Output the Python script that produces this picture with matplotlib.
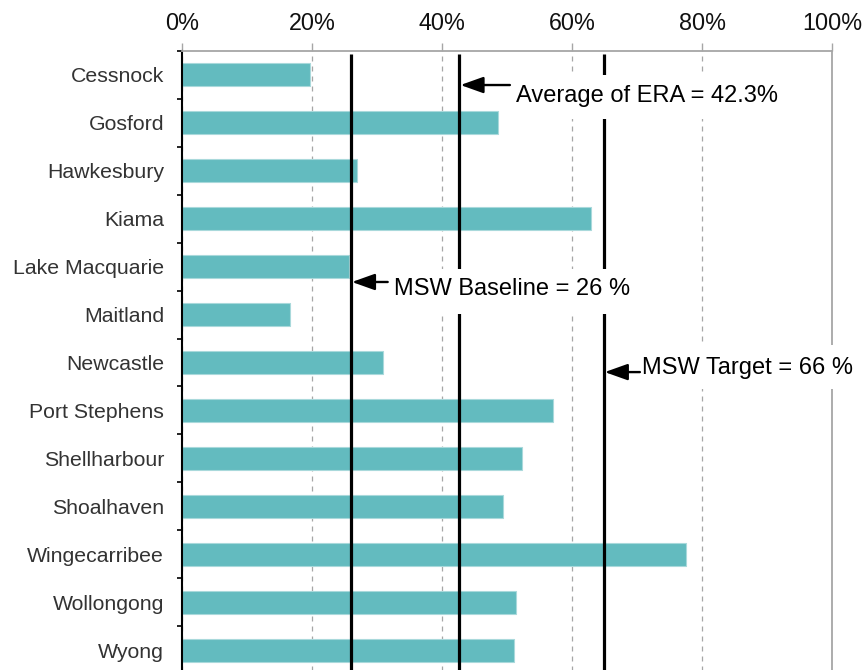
import matplotlib
matplotlib.use("Agg")
import matplotlib.pyplot as plt
from matplotlib.patches import Rectangle
from matplotlib.ticker import FixedLocator, FuncFormatter

plt.rcParams['font.family'] = ['Liberation Sans', 'DejaVu Sans']

councils = ["Cessnock", "Gosford", "Hawkesbury", "Kiama", "Lake Macquarie",
            "Maitland", "Newcastle", "Port Stephens", "Shellharbour",
            "Shoalhaven", "Wingecarribee", "Wollongong", "Wyong"]
values = [19.7, 48.5, 26.8, 62.9, 25.7, 16.5, 30.8, 57.0, 52.2, 49.3, 77.5, 51.3, 51.0]

ref_names = ["Average of ERA", "MSW Baseline", "MSW Target"]
ref_values = [42.6, 25.9, 64.8]
ref_labels = ["Average of ERA = 42.3%", "MSW Baseline = 26 %", "MSW Target = 66 %"]
x_ticks = [0, 20, 40, 60, 80, 100]

bar_color = "#63BBBF"
grid_color = "#A6A6A6"

fig = plt.figure(figsize=(8.66, 6.70), dpi=100)
ax = fig.add_axes([182.3 / 866, 1 - 674 / 670, 650 / 866, 623 / 670])

n = len(councils)
ypos = list(range(n))
ax.barh(ypos, values, height=0.48, color=bar_color, edgecolor="#A9D9DB",
        linewidth=0.8, zorder=2)

ax.set_xlim(0, 100)
ax.set_ylim(n - 0.5, -0.5)

# x axis on top
ax.xaxis.tick_top()
ax.set_xticks(x_ticks)
ax.xaxis.set_major_formatter(FuncFormatter(lambda v, p: f"{v:.0f}%"))
ax.tick_params(axis="x", which="major", direction="out", length=5.8, width=1.0,
               color=grid_color, labelsize=16.8, pad=6, labelcolor="#111111")
ax.xaxis.grid(True, color=grid_color, linestyle=(0, (4, 4)), linewidth=0.9, zorder=0)
ax.set_axisbelow(True)

# y axis: ticks at category boundaries, labels at centers
ax.yaxis.set_major_locator(FixedLocator([i - 0.5 for i in range(n + 1)]))
ax.yaxis.set_major_formatter(FuncFormatter(lambda v, p: ""))
ax.yaxis.set_minor_locator(FixedLocator(ypos))
ax.yaxis.set_minor_formatter(FuncFormatter(lambda v, p: councils[int(round(v))]))
ax.tick_params(axis="y", which="major", direction="out", length=3.6, width=1.2, color="black")
ax.tick_params(axis="y", which="minor", length=0, labelsize=15.3, pad=13, labelcolor="#333333")

for side in ["top", "right"]:
    ax.spines[side].set_color(grid_color)
    ax.spines[side].set_linewidth(1.3)
ax.spines["left"].set_color("black")
ax.spines["left"].set_linewidth(1.5)
ax.spines["bottom"].set_visible(False)

# reference lines
for v in ref_values:
    ax.vlines(v, -0.44, n - 0.5, color="black", linewidth=2.3, zorder=3)

# label layout (box extents, arrow positions) in axis units
layouts = [
    # box x0, x1, y0, y1, arrow y, arrow tail x, text x, text y
    (49.6, 94.5, 0.00, 0.92, 0.21, 50.4, 51.3, 0.44),
    (31.0, 70.0, 4.05, 4.99, 4.32, 31.6, 32.5, 4.47),
    (69.5, 110.0, 5.64, 6.56, 6.20, 70.4, 70.7, 6.12),
]
for v, lab, (bx0, bx1, by0, by1, ay, atx, tx, ty) in zip(ref_values, ref_labels, layouts):
    ax.add_patch(Rectangle((bx0, by0), bx1 - bx0, by1 - by0, facecolor="white",
                           edgecolor="none", zorder=4, clip_on=False))
    ax.annotate("", xy=(v + 0.2, ay), xytext=(atx, ay),
                arrowprops=dict(arrowstyle="-|>,head_length=1.4,head_width=0.5",
                                color="black", lw=1.7, shrinkA=0, shrinkB=0),
                zorder=5, annotation_clip=False)
    ax.text(tx, ty, lab, fontsize=17, color="black", ha="left", va="center",
            zorder=6, clip_on=False)

fig.savefig("out.png", dpi=100)
